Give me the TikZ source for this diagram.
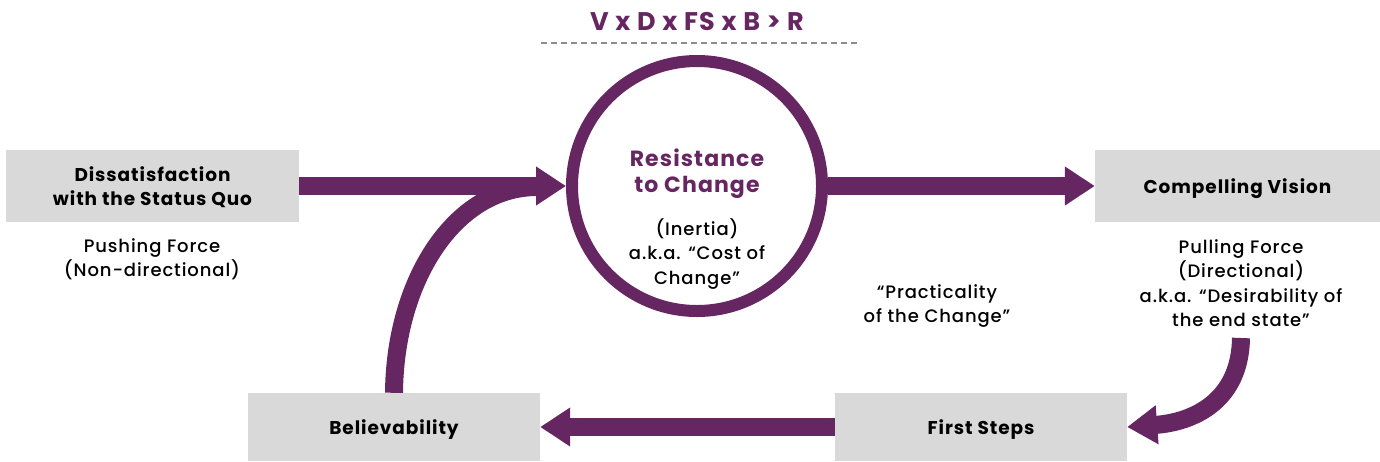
\documentclass[tikz,border=0pt]{standalone}
\usepackage{fontspec}
\setmainfont{Poppins}[UprightFont={Poppins Medium}, BoldFont={Poppins Bold}, LetterSpace=5]
\usetikzlibrary{arrows.meta}
\definecolor{purp}{RGB}{102,38,98}
\definecolor{boxgray}{RGB}{217,217,217}
\definecolor{dashgray}{RGB}{140,140,140}
\tikzset{
  graybox/.style={fill=boxgray, draw=none, inner sep=0pt, align=center, text depth=0pt,
    font=\fontsize{18.5}{24.4}\selectfont\bfseries},
  plaintext/.style={align=center, inner sep=0pt, font=\fontsize{18}{24.4}\selectfont},
  bigarrow/.style={draw=purp, line width=18pt, -{Triangle[length=30pt,width=37pt]}},
  thickarc/.style={draw=purp, line width=18pt},
}
\begin{document}
\begin{tikzpicture}[x=1pt,y=-1pt]
\useasboundingbox (0,0) rectangle (1380,461);
% title
\node[text=purp, font=\fontsize{25.5}{28}\selectfont\bfseries, inner sep=0pt] (formula) at (697,22) {V x D x FS x B > R};
\coordinate (dl) at (541,43);
\coordinate (dr) at (857,43);
\draw[dashgray, line width=1.5pt, dash pattern=on 6pt off 4pt] (dl) -- (dr);
% boxes
\node[graybox, minimum width=293pt, minimum height=72pt] (dis) at (152.5,186) {Dissatisfaction\\with the Status Quo};
\node[graybox, minimum width=285pt, minimum height=72pt] (cv) at (1237.5,186) {Compelling Vision};
\node[graybox, minimum width=292pt, minimum height=68pt] (fs) at (981,427) {First Steps};
\node[graybox, minimum width=292pt, minimum height=68pt] (bel) at (394,427) {Believability};
% circle
\node[circle, draw=purp, line width=12pt, minimum size=250pt, inner sep=0pt] (res) at (697,186) {};
\node[plaintext, text=purp, font=\fontsize{22}{26}\selectfont\bfseries] (restitle) at (697,174) {Resistance\\to Change};
\node[plaintext] (ressub) at (697,254) {(Inertia)\\a.k.a. “Cost of\\Change”};
% side texts
\node[plaintext] (push) at (152,259) {Pushing Force\\(Non-directional)};
\node[plaintext] (pull) at (1241,283) {Pulling Force\\(Directional)\\a.k.a. “Desirability of\\the end state”};
\node[plaintext] (prac) at (937,306) {“Practicality\\of the Change”};
% arrows
\draw[bigarrow] (dis.east) -- (res.west);
\draw[bigarrow] (res.east) -- (cv.west);
\draw[bigarrow] (fs.west) -- (bel.east);
\coordinate (pullend) at (1241,338);
\draw[bigarrow] (pullend) .. controls (1240,400) and (1195,422) .. (fs.east);
\coordinate (arcend) at (537,187);
\draw[thickarc] (bel.north) .. controls (395,280) and (455,187) .. (arcend);
\end{tikzpicture}
\end{document}
